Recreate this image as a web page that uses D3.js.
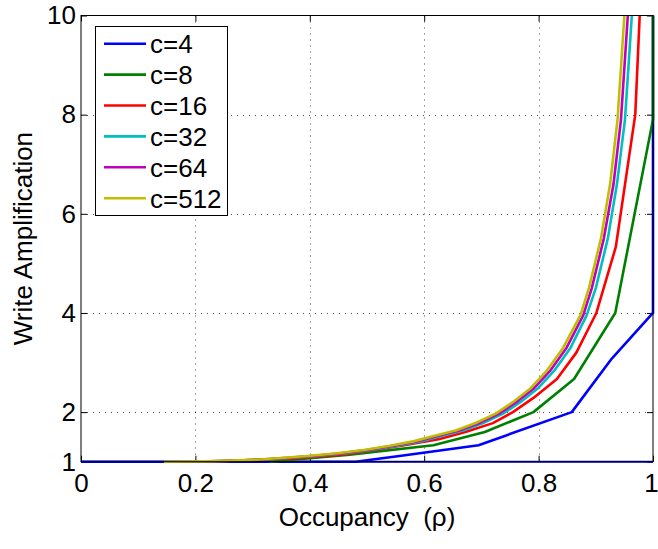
<!DOCTYPE html>
<html><head><meta charset="utf-8">
<script src="https://cdn.jsdelivr.net/npm/d3@7"></script>
<style>body{margin:0;background:#fff}</style>
</head><body><svg id="c" width="658" height="549"></svg>
<script>
const seriesNames = ["c=4","c=8","c=16","c=32","c=64","c=512"];
const colors = ["#0000ff","#008000","#ff0000","#00bfbf","#bf00bf","#bfbf00"];

const rho_c4 = [0, 0.48, 0.56, 0.695, 0.858, 0.928, 1.0, 1.0];
const wa_c4  = [1, 1.0, 1.12, 1.333, 2.0, 3.08, 4.0, 12];

const rho_c8 = [0.33, 0.47, 0.616, 0.706, 0.791, 0.862, 0.934, 1.0, 1.0];
const wa_c8  = [1.0, 1.143, 1.333, 1.6, 2.0, 2.667, 4.0, 7.9, 12];

const rho_c16 = [0.22, 0.37, 0.455, 0.51, 0.565, 0.625, 0.672, 0.72, 0.755, 0.791, 0.832, 0.866, 0.901, 0.935, 0.969, 1.0];
const wa_c16  = [1.0, 1.067, 1.143, 1.231, 1.333, 1.455, 1.6, 1.778, 2.0, 2.286, 2.667, 3.2, 4.0, 5.333, 8.0, 16];

const rho_c32 = [0.175, 0.235, 0.295, 0.333, 0.405, 0.462, 0.51, 0.553, 0.594, 0.633, 0.668, 0.703, 0.738, 0.768, 0.798, 0.827, 0.856, 0.884, 0.9, 0.921, 0.937, 0.951, 0.963, 0.973];
const wa_c32  = [1.00, 1.01, 1.03, 1.05, 1.11, 1.17, 1.24, 1.32, 1.41, 1.53, 1.63, 1.78, 1.97, 2.2, 2.47, 2.83, 3.3, 3.95, 4.5, 5.5, 6.6, 7.9, 10.0, 12.5];

const rho_c64 = [0.16, 0.225, 0.285, 0.325, 0.398, 0.455, 0.503, 0.546, 0.587, 0.626, 0.661, 0.696, 0.731, 0.761, 0.791, 0.82, 0.849, 0.878, 0.893, 0.914, 0.931, 0.944, 0.956, 0.966];
const wa_c64  = [1.00, 1.01, 1.03, 1.05, 1.11, 1.17, 1.24, 1.32, 1.41, 1.53, 1.63, 1.78, 1.97, 2.2, 2.47, 2.83, 3.3, 3.95, 4.5, 5.5, 6.6, 7.9, 10.0, 12.5];

const rho_c512 = [0.145, 0.215, 0.277, 0.317, 0.391, 0.448, 0.497, 0.54, 0.581, 0.62, 0.655, 0.69, 0.725, 0.755, 0.785, 0.814, 0.843, 0.873, 0.888, 0.909, 0.925, 0.938, 0.950, 0.960];
const wa_c512  = [1.00, 1.01, 1.03, 1.05, 1.11, 1.17, 1.24, 1.32, 1.41, 1.53, 1.63, 1.78, 1.97, 2.2, 2.47, 2.83, 3.3, 3.95, 4.5, 5.5, 6.6, 7.9, 10.0, 12.5];

const xTicks = [0, 0.2, 0.4, 0.6, 0.8, 1];
const xTickLabels = ["0", "0.2", "0.4", "0.6", "0.8", "1"];
const yTicks = [1, 2, 4, 6, 8, 10];
const yTickLabels = ["1", "2", "4", "6", "8", "10"];
const xLabel = "Occupancy  (\u03c1)";
const yLabel = "Write Amplification";

const series = [
  {name: seriesNames[0], rho: rho_c4, wa: wa_c4},
  {name: seriesNames[1], rho: rho_c8, wa: wa_c8},
  {name: seriesNames[2], rho: rho_c16, wa: wa_c16},
  {name: seriesNames[3], rho: rho_c32, wa: wa_c32},
  {name: seriesNames[4], rho: rho_c64, wa: wa_c64},
  {name: seriesNames[5], rho: rho_c512, wa: wa_c512}
];

const W = 658, H = 549;
const L = 81, R = 653, T = 15.5, B = 461.7;
const FONT = "'Liberation Sans', Arial, Helvetica, sans-serif";
const svg = d3.select("#c");
svg.append("rect").attr("width", W).attr("height", H).attr("fill", "#fff");

const x = d3.scaleLinear().domain([0, 1]).range([L, R]);
const y = d3.scaleLinear().domain([1, 10]).range([B, T]);

// grid
const grid = svg.append("g").attr("stroke", "#000").attr("stroke-width", 1)
  .attr("stroke-dasharray", "1,5").attr("fill", "none");
xTicks.filter(v => v > 0 && v < 1).forEach(v => {
  grid.append("line").attr("x1", Math.round(x(v)) + 0.5).attr("x2", Math.round(x(v)) + 0.5)
    .attr("y1", T).attr("y2", B).attr("stroke-opacity", 0.7);
});
yTicks.filter(v => v > 1 && v < 10).forEach(v => {
  grid.append("line").attr("y1", Math.round(y(v)) + 0.5).attr("y2", Math.round(y(v)) + 0.5)
    .attr("x1", L).attr("x2", R).attr("stroke-opacity", 0.7);
});

// axes
function styleAxis(g) {
  g.select(".domain").remove();
  g.selectAll(".tick line").attr("stroke", "#000");
  g.selectAll("text").attr("font-family", FONT).attr("font-size", 26).attr("fill", "#000");
}
const xAxisG = svg.append("g").attr("transform", `translate(0,${B})`)
  .call(d3.axisBottom(x).tickValues(xTicks).tickFormat((d, i) => xTickLabels[i]).tickSize(-6).tickPadding(12))
  .call(styleAxis);
xAxisG.selectAll(".tick text").filter(d => d === 1).attr("dx", -2);

svg.append("g").attr("transform", `translate(${L},0)`)
  .call(d3.axisLeft(y).tickValues(yTicks).tickFormat((d, i) => yTickLabels[i]).tickSize(-6).tickPadding(5))
  .call(styleAxis);
svg.append("g").attr("transform", `translate(0,${T})`)
  .call(d3.axisTop(x).tickValues(xTicks).tickFormat("").tickSize(-6)).call(styleAxis);
svg.append("g").attr("transform", `translate(${R},0)`)
  .call(d3.axisRight(y).tickValues(yTicks).tickFormat("").tickSize(-6)).call(styleAxis);

// clip
svg.append("clipPath").attr("id", "clip").append("rect")
  .attr("x", L - 2).attr("y", T).attr("width", R - L + 4).attr("height", B - T + 3);

const line = d3.line().x(d => x(d[0])).y(d => y(d[1]));
const plot = svg.append("g").attr("clip-path", "url(#clip)");

// box
svg.append("rect").attr("x", L).attr("y", T).attr("width", R - L).attr("height", B - T)
  .attr("fill", "none").attr("stroke", "#000").attr("stroke-width", 1);

// baseline of the first series (WA = 1)
plot.append("line").attr("x1", x(0)).attr("x2", x(1)).attr("y1", y(1)).attr("y2", y(1))
  .attr("stroke", colors[0]).attr("stroke-width", 2);

series.forEach((s, i) => {
  const pts = s.rho.map((r, j) => [r, s.wa[j]]);
  plot.append("path").attr("d", line(pts)).attr("fill", "none")
    .attr("stroke", colors[i]).attr("stroke-width", 2.6).attr("stroke-linejoin", "round");
});

// labels
svg.append("text").attr("x", (L + R) / 2).attr("y", 526).attr("text-anchor", "middle")
  .attr("xml:space", "preserve").style("white-space", "pre")
  .attr("font-family", FONT).attr("font-size", 26).attr("fill", "#000").text(xLabel);
svg.append("text").attr("transform", `translate(32,${(T + B) / 2}) rotate(-90)`)
  .attr("text-anchor", "middle").attr("font-family", FONT).attr("font-size", 26).attr("fill", "#000").text(yLabel);

// legend
const lg = svg.append("g");
lg.append("rect").attr("x", 95.5).attr("y", 26.5).attr("width", 132).attr("height", 189)
  .attr("fill", "#fff").attr("stroke", "#000").attr("stroke-width", 1);
series.forEach((s, i) => {
  const ry = 43.7 + i * 30.9;
  lg.append("line").attr("x1", 104).attr("x2", 146).attr("y1", ry).attr("y2", ry)
    .attr("stroke", colors[i]).attr("stroke-width", 2.6);
  lg.append("text").attr("x", 150).attr("y", ry + 9.5).attr("font-family", FONT)
    .attr("font-size", 26).attr("fill", "#000").text(s.name);
});
</script></body></html>
